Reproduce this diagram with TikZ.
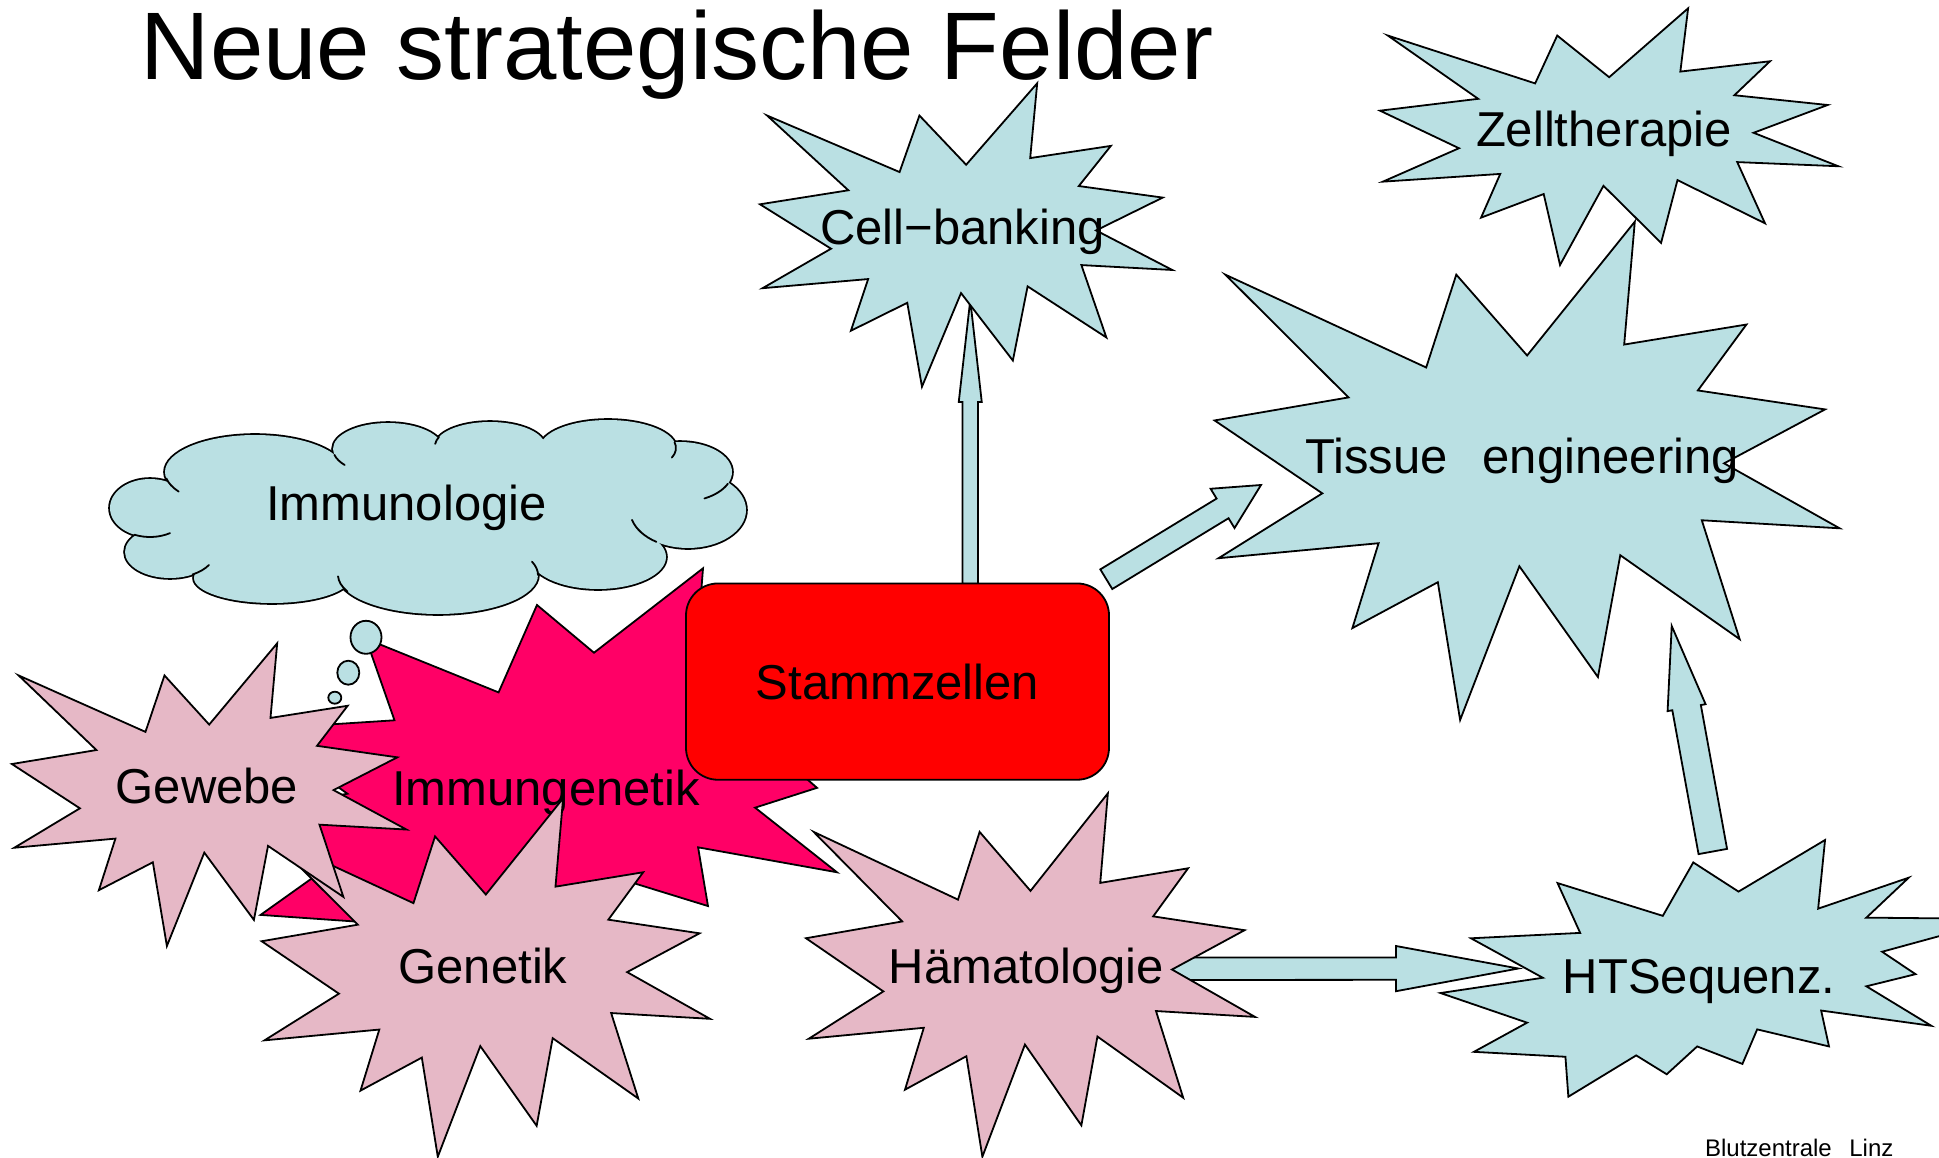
\documentclass[tikz,border=0pt]{standalone}
\usepackage{fontspec}
\setmainfont{Liberation Sans}
\usetikzlibrary{calc}
\definecolor{lblue}{RGB}{186,224,227}
\definecolor{lpink}{RGB}{230,184,198}
\definecolor{magent}{RGB}{255,0,102}
\definecolor{boxred}{RGB}{255,0,0}
\tikzset{
  starline/.style={draw=black,line width=1.8pt,line join=miter},
  blockarr/.style={draw=black,fill=lblue,line width=1.8pt,line join=miter},
  cloudline/.style={draw=black,line width=1.8pt,line cap=round},
  bigfont/.style={font=\fontsize{49}{58}\selectfont},
  lbl/.style={bigfont,inner sep=0pt,anchor=base},
}
% Explosion 1 (irregularSeal1), normalised to its bounding box
\newcommand\sealone[5]{%
 \begin{scope}[shift={(#2,#3)},xscale=#4,yscale=#5]
 \filldraw[starline,fill=#1] (0.5,0.26852) -- (0.67231,0) -- (0.65532,0.24653) -- (0.85093,0.20634) -- (0.77324,0.33866) -- (0.97671,0.37671) -- (0.81514,0.48495) -- (1,0.61528) -- (0.77949,0.59917) -- (0.84005,0.83773) -- (0.64907,0.66931) -- (0.61329,0.91375) -- (0.48759,0.69144) -- (0.39282,1) -- (0.35718,0.72347) -- (0.22046,0.8156) -- (0.26236,0.64523) -- (0.00625,0.67532) -- (0.17231,0.54514) -- (0,0.39884) -- (0.21421,0.35264) -- (0.01713,0.10625) -- (0.33852,0.29259) -- (0.38667,0.10625) -- cycle;
 \end{scope}}
% Explosion 2 (irregularSeal2)
\newcommand\sealtwo[5]{%
 \begin{scope}[shift={(#2,#3)},xscale=#4,yscale=#5]
 \filldraw[starline,fill=#1] (0.53065,0.20102) -- (0.68472,0) -- (0.67245,0.26745) -- (0.83366,0.14685) -- (0.75833,0.30241) -- (1,0.30764) -- (0.78634,0.43528) -- (0.84583,0.52269) -- (0.75833,0.56991) -- (0.87394,0.7237) -- (0.67778,0.66435) -- (0.69176,0.80417) -- (0.56389,0.73773) -- (0.53759,0.87231) -- (0.45704,0.80417) -- (0.40278,0.91259) -- (0.34847,0.83912) -- (0.22764,1) -- (0.22245,0.84444) -- (0.05949,0.82523) -- (0.15417,0.71157) -- (0,0.59616) -- (0.18218,0.53667) -- (0.05426,0.38287) -- (0.2487,0.3619) -- (0.20843,0.16782) -- (0.39583,0.29546) -- (0.45009,0.08736) -- cycle;
 \end{scope}}
% block arrow: tail, tip, shaft half width, head half width, head length
\newcommand\blockarrow[5]{%
 \path ($(#2)!#5!(#1)$) coordinate (hb);
 \filldraw[blockarr] ($(#1)!#3!90:(#2)$) -- ($(hb)!#3!-90:(#1)$) -- ($(hb)!#4!-90:(#1)$) -- (#2) -- ($(hb)!#4!90:(#1)$) -- ($(hb)!#3!90:(#1)$) -- ($(#1)!#3!-90:(#2)$) -- cycle;}
% cloud crease: centre x, centre y, rx, ry, start angle, end angle
\newcommand\crease[6]{%
 \draw[cloudline] ($(#1,#2)+(#5:#3pt and #4pt)$) arc[start angle=#5, end angle=#6, x radius=#3pt, y radius=#4pt];}
\begin{document}
\begin{tikzpicture}[x=1pt,y=-1pt]
\useasboundingbox (0,0) rectangle (1939,1158);
\fill[white] (0,0) rectangle (1939,1158);
\clip (0,0) rectangle (1939,1158);

% ---------- Immunologie cloud ----------
\foreach \cx/\cy/\rx/\ry in {150/508/40pt/29pt, 170/552/45pt/26pt, 272/578/78pt/25pt, 438/575/100pt/39pt, 598/557/68pt/32pt, 688/510/58pt/38pt, 680/472/52pt/30pt, 608/448/68pt/28pt, 490/446/55pt/24pt, 388/449/55pt/26pt, 255/472/90pt/37pt}
  {\draw[black,line width=3.6pt] (\cx,\cy) ellipse [x radius=\rx, y radius=\ry];}
\foreach \cx/\cy/\rx/\ry in {150/508/40pt/29pt, 170/552/45pt/26pt, 272/578/78pt/25pt, 438/575/100pt/39pt, 598/557/68pt/32pt, 688/510/58pt/38pt, 680/472/52pt/30pt, 608/448/68pt/28pt, 490/446/55pt/24pt, 388/449/55pt/26pt, 255/472/90pt/37pt, 430/515/255pt/62pt}
  {\fill[lblue] (\cx,\cy) ellipse [x radius=\rx, y radius=\ry];}
\fill[lblue] (172,483) -- (336,458) -- (438,442) -- (543,444) -- (672,447) -- (725,485) -- (652,537) -- (537,566) -- (346,584) -- (198,572) -- (140,535) -- cycle;
\crease{255}{472}{90}{37}{190}{212}
\crease{388}{449}{55}{26}{193}{218}
\crease{490}{446}{55}{24}{158}{175}
\crease{608}{448}{68}{28}{12}{-20}
\crease{680}{472}{52}{30}{337}{298}
\crease{688}{510}{58}{38}{237}{195}
\crease{438}{575}{100}{39}{0}{20}
\crease{438}{575}{100}{39}{205}{182}
\crease{170}{552}{45}{26}{300}{330}
\crease{150}{508}{40}{29}{247}{300}
\node[lbl] (immunologie) at (406.5,520) {Immunologie};

% ---------- Immungenetik ----------
\sealtwo{magent}{218.5}{568.3}{707.6}{420}
\node[lbl] (immungen) at (546,805) {Immungenetik};

% ---------- Genetik ----------
\sealone{lpink}{261.7}{798.3}{448.3}{358.4}
\node[lbl] (genetik) at (483,983) {Genetik};

% ---------- Gewebe ----------
\sealone{lpink}{11.9}{643.3}{394.6}{302.7}
\node[lbl] (gewebe) at (207,803) {Gewebe};

% thought bubbles
\filldraw[starline,fill=lblue] (366,637.3) ellipse [x radius=15.5pt, y radius=16.5pt];
\filldraw[starline,fill=lblue] (348.3,672.7) ellipse [x radius=11pt, y radius=12pt];
\filldraw[starline,fill=lblue] (334.8,697.7) ellipse [x radius=6.5pt, y radius=6pt];

% ---------- arrow Stammzellen -> Cell-banking ----------
\coordinate (a1s) at (970.25,583.7);
\coordinate (a1e) at (970.25,300);
\blockarrow{a1s}{a1e}{7.75pt}{11.5pt}{102pt}

% ---------- Stammzellen ----------
\node[draw=black,line width=1.8pt,fill=boxred,rounded corners=32pt,minimum width=423pt,minimum height=196.3pt,inner sep=0pt,bigfont] (stamm) at (897.5,681.6) {Stammzellen};

% ---------- Cell-banking ----------
\sealone{lblue}{760}{83.3}{412.3}{303.4}
\node[lbl] (cellbanking) at (962.5,245) {Cell−banking};

% ---------- Zelltherapie ----------
\sealone{lblue}{1380}{8.3}{458.3}{256.7}
\node[lbl] (zell) at (1604,146.7) {Zelltherapie};

% ---------- Tissue engineering ----------
\sealone{lblue}{1214.6}{221.7}{625}{498.3}
\node[lbl] (tissue) at (1522,473) {Tissue\hspace{35pt}engineering};

% ---------- HTSequenz ----------
\sealtwo{lblue}{1440.5}{840}{561.6}{256.7}
\node[lbl] (htseq) at (1699,993) {HTSequenz.};

% ---------- arrow Haematologie -> HTSequenz ----------
\coordinate (a4s) at (1172,968.8);
\coordinate (a4e) at (1518.3,968.5);
\blockarrow{a4s}{a4e}{11.2pt}{22.6pt}{122.3pt}

% ---------- Haematologie ----------
\sealone{lpink}{806}{793.3}{449}{363.4}
\node[lbl] (haema) at (1026.5,983) {Hämatologie};

% ---------- arrows to Tissue engineering ----------
\coordinate (a2s) at (1106.3,579.2);
\coordinate (a2e) at (1261,485);
\blockarrow{a2s}{a2e}{11.5pt}{23pt}{45pt}
\coordinate (a3s) at (1712.8,851.5);
\coordinate (a3e) at (1671.7,626);
\blockarrow{a3s}{a3e}{14.5pt}{19.3pt}{83pt}

% ---------- texts ----------
\node[font=\fontsize{96}{110}\selectfont,anchor=base,inner sep=0pt] (title) at (677,80) {Neue strategische Felder};
\node[font=\fontsize{24}{28}\selectfont,anchor=base west,inner sep=0pt] (footer) at (1704.9,1156) {Blutzentrale\hspace{17.5pt}Linz};
\end{tikzpicture}
\end{document}
